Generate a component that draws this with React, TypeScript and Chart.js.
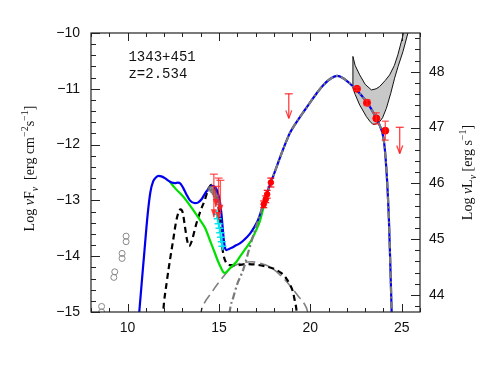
import React, { useEffect, useRef } from 'react';
import { Chart, registerables } from 'chart.js';

Chart.register(...registerables);

// ---------- axes ----------
const X_MIN = 8;
const X_MAX = 26;
const FLUX_MIN = -15;
const FLUX_MAX = -10;
const LUM_OFFSET = 58.694; // log nuL_nu = log nuF_nu + offset

const xTicks = [10, 15, 20, 25];
const fluxTicks = [-15, -14, -13, -12, -11, -10];
const lumTicks = [44, 45, 46, 47, 48];

const sourceName = '1343+451';
const redshiftLabel = 'z=2.534';

// ---------- model curves ----------
// total model (blue)
const totalX = [10.55, 10.64, 10.9, 11.1, 11.25, 11.4, 11.55, 11.7, 11.85, 12.04, 12.25, 12.41, 12.6, 12.75, 12.9, 13.05, 13.2, 13.41, 13.68, 13.85, 14.05, 14.25, 14.41, 14.55, 14.65, 14.78, 14.87, 14.97, 15.05, 15.13, 15.2, 15.28, 15.34, 15.41, 15.55, 15.7, 15.96, 16.14, 16.4, 16.69, 16.95, 17.14, 17.3, 17.45, 17.65, 17.87, 18.1, 18.4, 18.65, 18.87, 19.1, 19.42, 19.7, 20.0, 20.35, 20.69, 21.1, 21.46, 21.8, 22.15, 22.52, 22.8, 23.07, 23.35, 23.61, 23.8, 23.97, 24.05, 24.12, 24.2, 24.3, 24.38, 24.45, 24.5];
const totalY = [-15.4, -15.0, -14.0, -13.25, -12.85, -12.66, -12.59, -12.56, -12.57, -12.6, -12.65, -12.68, -12.69, -12.68, -12.7, -12.78, -12.88, -13.0, -13.05, -13.04, -12.98, -12.87, -12.8, -12.75, -12.74, -12.76, -12.8, -12.9, -13.02, -13.22, -13.47, -13.75, -13.86, -13.89, -13.87, -13.85, -13.8, -13.77, -13.7, -13.6, -13.47, -13.35, -13.2, -13.05, -12.85, -12.65, -12.45, -12.18, -11.97, -11.8, -11.67, -11.51, -11.38, -11.24, -11.08, -10.94, -10.82, -10.77, -10.81, -10.9, -11.02, -11.12, -11.23, -11.37, -11.53, -11.66, -11.83, -12.0, -12.25, -12.65, -13.35, -14.2, -15.0, -15.5];

// synchrotron + disk + torus (green)
const greenX = [12.3, 12.6, 13.04, 13.5, 13.96, 14.25, 14.5, 14.75, 14.96, 15.1, 15.23, 15.32, 15.45, 15.65, 15.96, 16.14, 16.45, 16.78, 17.0, 17.23, 17.42, 17.55];
const greenY = [-12.66, -12.78, -12.93, -13.13, -13.35, -13.5, -13.71, -13.92, -14.1, -14.2, -14.28, -14.3, -14.27, -14.2, -14.1, -14.01, -13.87, -13.71, -13.56, -13.38, -13.15, -12.98];

// torus + disk + corona (black dashed)
const diskX = [11.9, 11.95, 12.15, 12.32, 12.5, 12.64, 12.78, 12.9, 13.02, 13.14, 13.25, 13.37, 13.5, 13.77, 14.0, 14.23, 14.41, 14.6, 14.8, 14.95, 15.05, 15.15, 15.25, 15.4, 15.6, 16.0, 16.5, 17.0, 17.5, 17.96, 18.4, 18.69, 18.9, 19.05, 19.15, 19.24, 19.3];
const diskY = [-15.3, -15.0, -14.45, -14.07, -13.7, -13.41, -13.22, -13.16, -13.22, -13.47, -13.7, -13.82, -13.74, -13.41, -13.18, -12.99, -12.8, -12.72, -12.8, -13.05, -13.35, -13.75, -13.98, -14.12, -14.16, -14.16, -14.14, -14.15, -14.18, -14.22, -14.3, -14.4, -14.52, -14.64, -14.8, -14.96, -15.2];

// SSC (grey long dashes)
const sscX = [13.95, 14.05, 14.6, 15.23, 15.7, 16.14, 16.78, 17.3, 17.78, 18.3, 18.87, 19.3, 19.79, 19.9];
const sscY = [-15.1, -14.96, -14.65, -14.37, -14.2, -14.13, -14.1, -14.13, -14.19, -14.32, -14.52, -14.7, -14.93, -15.05];

// External Compton (grey dash-dot)
const ecX = [15.5, 15.6, 15.8, 16.0, 16.32, 16.7, 17.0, 17.14, 17.3, 17.45, 17.65, 17.87, 18.1, 18.4, 18.65, 18.87, 19.1, 19.42, 19.7, 20.0, 20.35, 20.69, 21.1, 21.46, 21.8, 22.15, 22.52, 22.8, 23.07, 23.35, 23.61, 23.8, 23.97, 24.05, 24.12, 24.2, 24.3, 24.38, 24.45, 24.5];
const ecY = [-15.3, -14.97, -14.72, -14.5, -14.25, -13.82, -13.5, -13.36, -13.2, -13.05, -12.85, -12.65, -12.45, -12.18, -11.97, -11.8, -11.67, -11.51, -11.38, -11.24, -11.08, -10.94, -10.82, -10.77, -10.81, -10.9, -11.02, -11.12, -11.23, -11.37, -11.53, -11.66, -11.83, -12.0, -12.25, -12.65, -13.35, -14.2, -15.0, -15.5];

// Fermi butterfly (grey area)
const bowX = [22.33, 22.45, 22.7, 23.0, 23.34, 23.6, 23.79, 24.1, 24.34, 24.6, 24.79, 25.07, 25.2, 25.5, 25.34, 25.07, 24.8, 24.61, 24.4, 24.16, 23.95, 23.79, 23.6, 23.43, 23.25, 23.07, 22.7, 22.45, 22.33, 22.33];
const bowY = [-10.42, -10.58, -10.75, -10.92, -11.02, -11.0, -10.96, -10.85, -10.75, -10.58, -10.39, -10.04, -9.8, -9.8, -10.0, -10.33, -10.6, -10.81, -11.08, -11.35, -11.52, -11.59, -11.63, -11.64, -11.58, -11.5, -11.29, -11.1, -10.99, -10.42];

// ---------- data ----------
const radioX = [8.58, 8.58, 9.25, 9.3, 9.7, 9.7, 9.92, 9.92];
const radioY = [-15.0, -14.9, -14.38, -14.28, -14.04, -13.95, -13.74, -13.64];

const archX = [14.5, 14.58, 14.65, 14.72, 14.78, 14.84, 14.9, 14.95];
const archY = [-12.8, -12.78, -12.83, -12.86, -12.9, -12.95, -12.99, -13.04];

const uvotX = [14.88, 14.93, 14.98, 15.03, 15.07, 15.11, 15.15, 15.19];
const uvotY = [-13.25, -13.33, -13.42, -13.5, -13.58, -13.66, -13.74, -13.82];

const optX = [14.72, 14.83, 14.98, 15.08];
const optTop = [-12.53, -12.75, -12.6, -12.64];
const optBottom = [-13.3, -13.12, -13.35, -13.22];

const xrayX = [17.45, 17.56, 17.64, 17.84];
const xrayY = [-13.07, -12.98, -12.89, -12.68];
const xrayErr = [0.06, 0.06, 0.07, 0.08];

const fermiX = [22.55, 23.1, 23.61, 24.1];
const fermiY = [-11.0, -11.25, -11.53, -11.75];
const fermiErr = [0.03, 0.05, 0.1, 0.17];

const ulX = [18.82, 24.89];
const ulTop = [-11.09, -11.69];
const ulBottom = [-11.53, -12.16];

const pts = (xs: number[], ys: number[]) => xs.map((x, i) => ({ x, y: ys[i] }));
const minus = (v: number) => (v < 0 ? '\u2212' + Math.abs(v) : String(v));

const SANS = '"Liberation Sans", "DejaVu Sans", sans-serif';
const SERIF = '"Liberation Serif", "DejaVu Serif", serif';

type Run = { t: string; sub?: boolean; sup?: boolean; it?: boolean };

function drawRich(ctx: CanvasRenderingContext2D, runs: Run[], cx: number, cy: number, size: number) {
  ctx.save();
  ctx.translate(cx, cy);
  ctx.rotate(-Math.PI / 2);
  const fonts = runs.map((r) => `${r.it ? 'italic ' : ''}${r.sub || r.sup ? Math.round(size * 0.72) : size}px ${SERIF}`);
  let w = 0;
  runs.forEach((r, i) => {
    ctx.font = fonts[i];
    w += ctx.measureText(r.t).width;
  });
  let x = -w / 2;
  ctx.fillStyle = '#111';
  ctx.textBaseline = 'alphabetic';
  runs.forEach((r, i) => {
    ctx.font = fonts[i];
    const dy = r.sub ? size * 0.28 : r.sup ? -size * 0.4 : 0;
    ctx.fillText(r.t, x, size * 0.35 + dy);
    x += ctx.measureText(r.t).width;
  });
  ctx.restore();
}

const framePlugin = {
  id: 'frameTicks',
  afterDatasetsDraw(chart: any) {
    const { ctx, chartArea: a, scales } = chart;
    const xs = scales.x;
    const ys = scales.y;
    const y2 = scales.y2;

    // error bars and limits
    ctx.save();
    ctx.beginPath();
    ctx.rect(a.left, a.top, a.right - a.left, a.bottom - a.top);
    ctx.clip();
    const seg = (x1: number, y1: number, x2: number, y2v: number) => {
      ctx.beginPath();
      ctx.moveTo(x1, y1);
      ctx.lineTo(x2, y2v);
      ctx.stroke();
    };
    // optical upper limits / big error bars
    ctx.strokeStyle = 'rgba(255,30,30,0.75)';
    ctx.fillStyle = 'rgba(255,30,30,0.85)';
    ctx.lineWidth = 1.3;
    optX.forEach((xv, i) => {
      const px = xs.getPixelForValue(xv);
      const t = ys.getPixelForValue(optTop[i]);
      const b = ys.getPixelForValue(optBottom[i]);
      seg(px - 4, t, px + 4, t);
      seg(px, t, px, b);
      ctx.beginPath();
      ctx.moveTo(px - 3, b - 8);
      ctx.lineTo(px + 3, b - 8);
      ctx.lineTo(px, b);
      ctx.closePath();
      ctx.fill();
    });
    // X-ray error bars
    ctx.strokeStyle = 'rgba(255,0,0,0.9)';
    xrayX.forEach((xv, i) => {
      const px = xs.getPixelForValue(xv);
      const t = ys.getPixelForValue(xrayY[i] + xrayErr[i]);
      const b = ys.getPixelForValue(xrayY[i] - xrayErr[i]);
      seg(px, t, px, b);
      seg(px - 3.5, t, px + 3.5, t);
      seg(px - 3.5, b, px + 3.5, b);
    });
    // Fermi error bars
    ctx.strokeStyle = 'rgba(255,40,40,0.8)';
    fermiX.forEach((xv, i) => {
      const px = xs.getPixelForValue(xv);
      const t = ys.getPixelForValue(fermiY[i] + fermiErr[i]);
      const b = ys.getPixelForValue(fermiY[i] - fermiErr[i]);
      seg(px, t, px, b);
      seg(px - 3.5, t, px + 3.5, t);
      seg(px - 3.5, b, px + 3.5, b);
    });
    // upper limits
    ctx.strokeStyle = 'rgba(255,30,30,0.85)';
    ulX.forEach((xv, i) => {
      const px = xs.getPixelForValue(xv);
      const t = ys.getPixelForValue(ulTop[i]);
      const b = ys.getPixelForValue(ulBottom[i]);
      seg(px - 4, t, px + 4, t);
      seg(px, t, px, b);
      seg(px - 3, b - 8, px, b);
      seg(px + 3, b - 8, px, b);
    });
    ctx.restore();

    // frame and ticks
    ctx.save();
    ctx.strokeStyle = '#222';
    ctx.lineWidth = 1.2;
    ctx.strokeRect(a.left, a.top, a.right - a.left, a.bottom - a.top);
    ctx.lineWidth = 1;
    for (let v = Math.ceil(xs.min); v <= xs.max; v++) {
      const px = Math.round(xs.getPixelForValue(v)) + 0.5;
      const len = v % 5 === 0 ? 8 : 4;
      seg(px, a.bottom, px, a.bottom - len);
      seg(px, a.top, px, a.top + len);
    }
    for (let k = Math.ceil(ys.min * 5 - 1e-6); k <= Math.floor(ys.max * 5 + 1e-6); k++) {
      const py = Math.round(ys.getPixelForValue(k / 5)) + 0.5;
      const len = k % 5 === 0 ? 9 : 5;
      seg(a.left, py, a.left + len, py);
    }
    for (let k = Math.ceil(y2.min * 5 - 1e-6); k <= Math.floor(y2.max * 5 + 1e-6); k++) {
      const py = Math.round(y2.getPixelForValue(k / 5)) + 0.5;
      const len = k % 5 === 0 ? 9 : 5;
      seg(a.right, py, a.right - len, py);
    }
    ctx.restore();
  },
  afterDraw(chart: any) {
    const { ctx, chartArea: a, scales } = chart;
    const cy = (a.top + a.bottom) / 2;
    drawRich(ctx, [
      { t: 'Log ' }, { t: '\u03bd', it: true }, { t: 'F' }, { t: '\u03bd', sub: true, it: true },
      { t: '  [erg cm' }, { t: '\u22122', sup: true }, { t: 's' }, { t: '\u22121', sup: true }, { t: ']' },
    ], a.left - 62, cy - 4, 14);
    drawRich(ctx, [
      { t: 'Log ' }, { t: '\u03bd', it: true }, { t: 'L' }, { t: '\u03bd', sub: true, it: true },
      { t: ' [erg s' }, { t: '\u22121', sup: true }, { t: ']' },
    ], a.right + 47, cy, 14);
    ctx.save();
    ctx.fillStyle = '#111';
    ctx.font = `14px "Liberation Mono", "DejaVu Sans Mono", monospace`;
    ctx.textBaseline = 'middle';
    ctx.textAlign = 'left';
    ctx.fillText(sourceName, scales.x.getPixelForValue(10.05), scales.y.getPixelForValue(-10.43));
    ctx.fillText(redshiftLabel, scales.x.getPixelForValue(10.05), scales.y.getPixelForValue(-10.735));
    ctx.restore();
  },
};

const lineDs = (label: string, xs: number[], ys: number[], color: string, width: number, dash: number[], order: number) => ({
  label,
  data: pts(xs, ys),
  showLine: true,
  borderColor: color,
  borderWidth: width,
  borderDash: dash,
  pointRadius: 0,
  fill: false,
  cubicInterpolationMode: 'monotone' as const,
  order,
});

export default function App() {
  const ref = useRef<HTMLCanvasElement>(null);
  useEffect(() => {
    if (!ref.current) return;
    const chart = new Chart(ref.current, {
      type: 'scatter',
      data: {
        datasets: [
          {
            label: 'butterfly',
            data: pts(bowX, bowY),
            showLine: true,
            borderColor: '#111',
            borderWidth: 1,
            backgroundColor: '#c8c8c8',
            fill: 'shape',
            pointRadius: 0,
            tension: 0,
            order: 20,
          } as any,
          lineDs('ssc', sscX, sscY, '#808080', 1.6, [10, 5], 15),
          lineDs('disk', diskX, diskY, '#000000', 2.2, [6, 4], 14),
          lineDs('green', greenX, greenY, '#00e000', 2.2, [], 13),
          lineDs('total', totalX, totalY, '#0000ee', 2.2, [], 12),
          lineDs('ec', ecX, ecY, '#7a7a7a', 2.2, [7, 3, 2, 3], 11),
          {
            label: 'radio',
            data: pts(radioX, radioY),
            pointStyle: 'circle',
            pointRadius: 3,
            borderColor: '#888',
            borderWidth: 1,
            backgroundColor: 'rgba(0,0,0,0)',
            order: 5,
          },
          {
            label: 'archive',
            data: pts(archX, archY),
            pointStyle: 'rect',
            pointRadius: 2.5,
            borderColor: 'rgba(110,110,110,0.9)',
            borderWidth: 1,
            backgroundColor: 'rgba(150,150,150,0.6)',
            order: 4,
          },
          {
            label: 'uvot',
            data: pts(uvotX, uvotY),
            pointStyle: 'cross',
            pointRadius: 4,
            borderColor: '#00e5ee',
            borderWidth: 1.5,
            order: 3,
          },
          {
            label: 'xray',
            data: pts(xrayX, xrayY),
            pointStyle: 'circle',
            pointRadius: 2.8,
            borderColor: '#ff0000',
            backgroundColor: '#ff0000',
            order: 2,
          },
          {
            label: 'fermi',
            data: pts(fermiX, fermiY),
            pointStyle: 'circle',
            pointRadius: 3.5,
            borderColor: '#ff0000',
            backgroundColor: '#ff0000',
            order: 1,
          },
        ],
      },
      options: {
        responsive: false,
        animation: false,
        events: [],
        layout: { padding: { top: 33, left: 0, right: 0, bottom: 0 } },
        plugins: { legend: { display: false }, tooltip: { enabled: false } },
        scales: {
          x: {
            type: 'linear',
            position: 'bottom',
            min: X_MIN,
            max: X_MAX,
            grid: { display: false, drawTicks: false },
            border: { display: false },
            afterBuildTicks: (s: any) => { s.ticks = xTicks.map((v) => ({ value: v })); },
            afterFit: (s: any) => { s.height = 70; },
            ticks: { font: { family: SANS, size: 14 }, color: '#111', padding: 8, maxRotation: 0, autoSkip: false, callback: (v: any) => String(v) },
          },
          y: {
            type: 'linear',
            position: 'left',
            min: FLUX_MIN,
            max: FLUX_MAX,
            grid: { display: false, drawTicks: false },
            border: { display: false },
            afterBuildTicks: (s: any) => { s.ticks = fluxTicks.map((v) => ({ value: v })); },
            afterFit: (s: any) => { s.width = 91; },
            ticks: { font: { family: SANS, size: 14 }, color: '#111', padding: 11, autoSkip: false, callback: (v: any) => minus(Number(v)) },
          },
          y2: {
            type: 'linear',
            position: 'right',
            min: FLUX_MIN + LUM_OFFSET,
            max: FLUX_MAX + LUM_OFFSET,
            grid: { display: false, drawTicks: false },
            border: { display: false },
            afterBuildTicks: (s: any) => { s.ticks = lumTicks.map((v) => ({ value: v })); },
            afterFit: (s: any) => { s.width = 71; },
            ticks: { font: { family: SANS, size: 14 }, color: '#111', padding: 9, autoSkip: false, callback: (v: any) => String(v) },
          },
        },
      } as any,
      plugins: [framePlugin],
    });
    return () => chart.destroy();
  }, []);
  return (
    <div style={{ position: 'absolute', left: 0, top: 0, width: 491, height: 382 }}>
      <canvas ref={ref} width={491} height={382} style={{ display: 'block', width: 491, height: 382 }} />
    </div>
  );
}
